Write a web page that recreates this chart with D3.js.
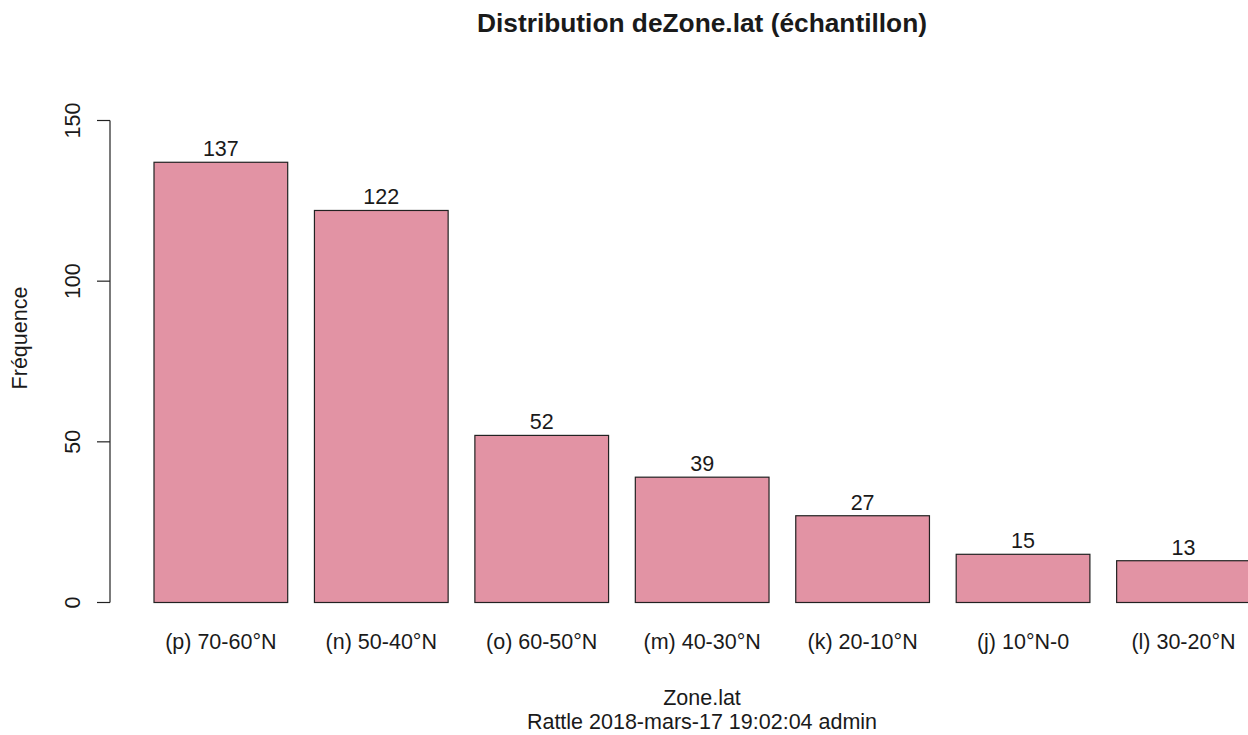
<!DOCTYPE html>
<html><head><meta charset="utf-8">
<script src="https://cdn.jsdelivr.net/npm/d3@7"></script>
<style>body{margin:0;background:#fff}svg{display:block}text{font-family:"Liberation Sans",Arial,sans-serif;fill:#1a1a1a}</style>
</head><body>
<script>
const categories = ["(p) 70-60°N","(n) 50-40°N","(o) 60-50°N","(m) 40-30°N","(k) 20-10°N","(j) 10°N-0","(l) 30-20°N"];
const values = [137,122,52,39,27,15,13];
const yTicks = [0,50,100,150];
const title = "Distribution deZone.lat (échantillon)";
const xTitle = "Zone.lat";
const subTitle = "Rattle 2018-mars-17 19:02:04 admin";
const yTitle = "Fréquence";

const W=1248,H=735;
const svg=d3.select("body").append("svg").attr("width",W).attr("height",H);
// R barplot units: bar i spans [0.2+1.2i, 1.2+1.2i]
const x=d3.scaleLinear().domain([0.2,1.2]).range([154,287.7]);
const y=d3.scaleLinear().domain([0,150]).range([602.5,120.5]);

svg.selectAll("rect.bar").data(values).join("rect")
  .attr("x",(d,i)=>x(0.2+1.2*i)).attr("y",d=>y(d))
  .attr("width",(d,i)=>x(1.2+1.2*i)-x(0.2+1.2*i)).attr("height",d=>y(0)-y(d))
  .attr("fill","#e293a4").attr("stroke","#222").attr("stroke-width",1.2);

svg.selectAll("text.val").data(values).join("text")
  .attr("x",(d,i)=>x(0.7+1.2*i)).attr("y",d=>y(d)-6)
  .attr("text-anchor","middle").attr("font-size",21.5).text(d=>d);

svg.selectAll("text.cat").data(categories).join("text")
  .attr("x",(d,i)=>x(0.7+1.2*i)).attr("y",649)
  .attr("text-anchor","middle").attr("font-size",21.5).text(d=>d);

// y axis
const ax=svg.append("g");
ax.append("line").attr("x1",110).attr("x2",110).attr("y1",y(0)).attr("y2",y(150)).attr("stroke","#222").attr("stroke-width",1.2);
ax.selectAll("line.t").data(yTicks).join("line").attr("x1",97).attr("x2",110)
  .attr("y1",d=>y(d)).attr("y2",d=>y(d)).attr("stroke","#222").attr("stroke-width",1.2);
ax.selectAll("text").data(yTicks).join("text")
  .attr("transform",d=>`translate(80,${y(d)}) rotate(-90)`)
  .attr("text-anchor","middle").attr("font-size",21.5).text(d=>d);

svg.append("text").attr("transform","translate(27,338) rotate(-90)").attr("text-anchor","middle").attr("font-size",21.5).text(yTitle);
svg.append("text").attr("x",702).attr("y",32).attr("text-anchor","middle").attr("font-size",26.3).attr("font-weight","bold").text(title);
svg.append("text").attr("x",702).attr("y",705).attr("text-anchor","middle").attr("font-size",21.5).text(xTitle);
svg.append("text").attr("x",702).attr("y",729).attr("text-anchor","middle").attr("font-size",21.5).text(subTitle);
</script>
</body></html>
